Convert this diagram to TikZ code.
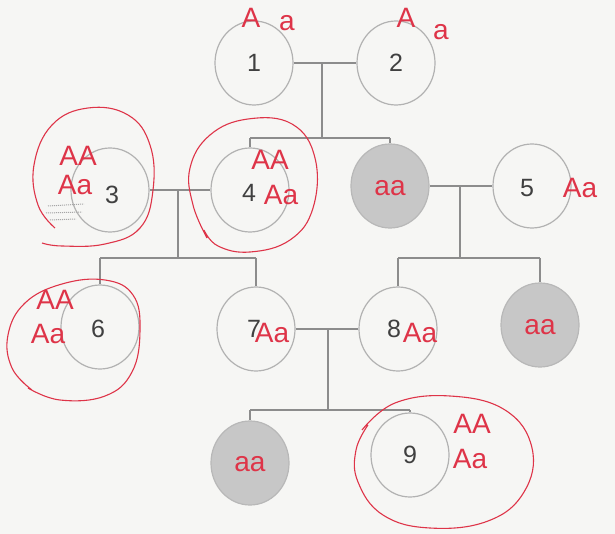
\documentclass[tikz,border=0pt]{standalone}
\usepackage{fontspec}
\setmainfont{Liberation Sans}
\usetikzlibrary{shapes.geometric}
\definecolor{pen}{RGB}{222,52,72}
\definecolor{paper}{RGB}{246,246,244}

\begin{document}
\begin{tikzpicture}[x=1pt, y=-1pt,
  person/.style={ellipse, draw=black!30, line width=1.2pt, minimum width=78pt, minimum height=84pt, inner sep=0pt, font=\fontsize{25}{25}\selectfont, text=black!75},
  sick/.style={person, fill=black!22, draw=black!28},
  line/.style={draw=black!45, line width=1.2pt},
  geno/.style={inner sep=0pt, text=pen, font=\fontsize{28}{28}\selectfont},
  loop/.style={draw=pen, line width=1.1pt}]

% paper and bounding box
\fill[paper] (0,0) rectangle (615,534);
\useasboundingbox (0,0) rectangle (615,534);

% Generation I
\node[person] (p1) at (254,63) {1};
\node[person] (p2) at (396,63) {2};

% Generation II
\node[person] (p3) at (110,190) {};
\node[person] (p4) at (250,190) {};
\node[sick] (a1) at (390,186) {};
\node[person] (p5) at (532,186) {};

% Generation III
\node[person] (p6) at (100,327) {};
\node[person] (p7) at (256,329) {};
\node[person] (p8) at (398,329) {};
\node[sick] (a2) at (540,325) {};

% Generation IV
\node[sick] (a3) at (250,463) {};
\node[person] (p9) at (410,455) {9};

% junction points
\coordinate (m12) at (322,63);
\coordinate (s12) at (322,138);
\coordinate (m34) at (178,190);
\coordinate (s34) at (178,258);
\coordinate (m5) at (460,186);
\coordinate (s5) at (460,258);
\coordinate (m78) at (328,329);
\coordinate (s78) at (328,410);

% matings, descents and sibling bars
\draw[line] (p1) -- (p2) (m12) -- (s12);
\draw[line] (s12 -| p4) -- (s12 -| a1) (s12 -| p4) -- (p4) (s12 -| a1) -- (a1);
\draw[line] (p3) -- (p4) (m34) -- (s34);
\draw[line] (s34 -| p6) -- (s34 -| p7) (s34 -| p6) -- (p6) (s34 -| p7) -- (p7);
\draw[line] (a1) -- (p5) (m5) -- (s5);
\draw[line] (s5 -| p8) -- (s5 -| a2) (s5 -| p8) -- (p8) (s5 -| a2) -- (a2);
\draw[line] (p7) -- (p8) (m78) -- (s78);
\draw[line] (s78 -| a3) -- (s78 -| p9) (s78 -| a3) -- (a3) (s78 -| p9) -- (p9);

% numbers beside the handwriting
\node[font=\fontsize{25}{25}\selectfont, text=black!75] (n3) at (112,195) {3};
\node[font=\fontsize{25}{25}\selectfont, text=black!75] (n4) at (249,193) {4};
\node[font=\fontsize{25}{25}\selectfont, text=black!75] (n5) at (527,188) {5};
\node[font=\fontsize{25}{25}\selectfont, text=black!75] (n6) at (98,329) {6};
\node[font=\fontsize{25}{25}\selectfont, text=black!75] (n7) at (254,329) {7};
\node[font=\fontsize{25}{25}\selectfont, text=black!75] (n8) at (394,329) {8};

% handwritten genotypes
\node[geno] (g1a) at (251,18) {A};
\node[geno] (g1b) at (287,23) {a};
\node[geno] (g2a) at (406,18) {A};
\node[geno] (g2b) at (441,32) {a};
\node[geno] (g3a) at (78,156) {AA};
\node[geno] (g3b) at (75,185) {Aa};
\node[geno] (g4a) at (270,160) {AA};
\node[geno] (g4b) at (281,195) {Aa};
\node[geno] (g5) at (580,188) {Aa};
\node[geno] (a1g) at (390,188) {aa};
\node[geno] (g6a) at (55,300) {AA};
\node[geno] (g6b) at (48,334) {Aa};
\node[geno] (g7) at (272,333) {Aa};
\node[geno] (g8) at (420,333) {Aa};
\node[geno] (a2g) at (540,327) {aa};
\node[geno] (a3g) at (250,464) {aa};
\node[geno] (g9a) at (472,424) {AA};
\node[geno] (g9b) at (470,459) {Aa};

% scribble under 3
\draw[black!35, densely dotted, line width=1pt] (48,206) -- (84,204) (46,213) -- (82,212) (50,220) -- (76,219);

% rings round the carriers
\draw[loop] plot[smooth, tension=0.7] coordinates {(42,243) (62,246) (105,244) (140,228) (153,190) (150,145) (128,115) (88,108) (52,125) (34,165) (38,205) (55,228)};
\draw[loop] plot[smooth, tension=0.7] coordinates {(207,238) (193,205) (190,168) (210,135) (248,119) (292,124) (315,158) (313,208) (290,240) (250,252) (218,246) (204,230)};
\draw[loop] plot[smooth, tension=0.7] coordinates {(28,388) (60,400) (105,396) (132,372) (140,330) (133,295) (105,280) (62,284) (25,303) (8,335) (12,368) (32,390)};
\draw[loop] plot[smooth, tension=0.7] coordinates {(362,430) (395,403) (450,396) (505,410) (532,448) (524,492) (488,521) (430,528) (383,515) (358,482) (356,450) (368,425)};
\end{tikzpicture}
\end{document}
